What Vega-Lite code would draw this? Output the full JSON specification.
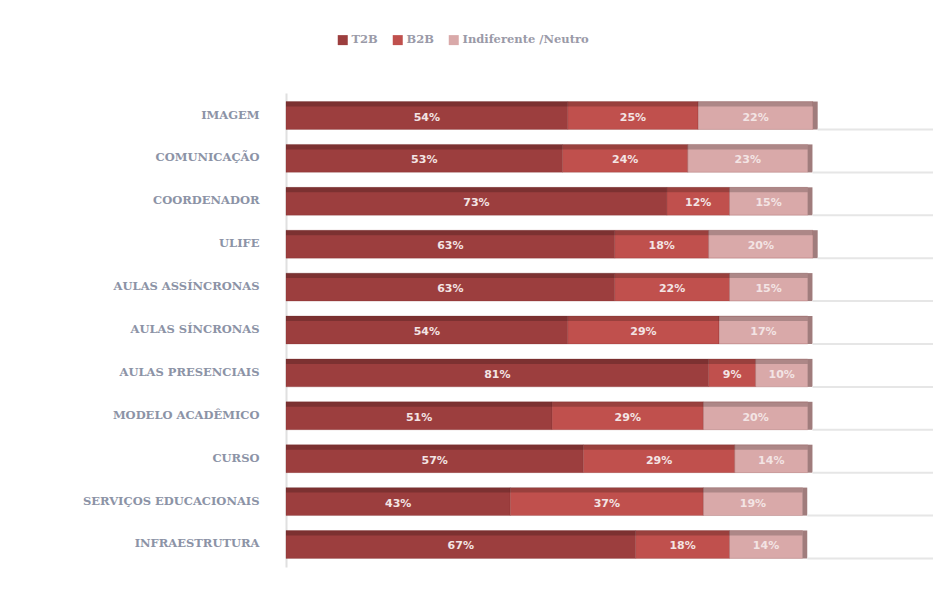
{
  "$schema": "https://vega.github.io/schema/vega-lite/v6.json",
  "autosize": "none",
  "width": 647,
  "height": 474,
  "padding": {"left": 286, "top": 93, "right": 6, "bottom": 25},
  "background": "white",
  "config": {"view": {"stroke": null}},
  "data": {"values": [
    {"item": "IMAGEM", "cat": "T2B", "pct": 54},
    {"item": "IMAGEM", "cat": "B2B", "pct": 25},
    {"item": "IMAGEM", "cat": "Indiferente /Neutro", "pct": 22},
    {"item": "COMUNICAÇÃO", "cat": "T2B", "pct": 53},
    {"item": "COMUNICAÇÃO", "cat": "B2B", "pct": 24},
    {"item": "COMUNICAÇÃO", "cat": "Indiferente /Neutro", "pct": 23},
    {"item": "COORDENADOR", "cat": "T2B", "pct": 73},
    {"item": "COORDENADOR", "cat": "B2B", "pct": 12},
    {"item": "COORDENADOR", "cat": "Indiferente /Neutro", "pct": 15},
    {"item": "ULIFE", "cat": "T2B", "pct": 63},
    {"item": "ULIFE", "cat": "B2B", "pct": 18},
    {"item": "ULIFE", "cat": "Indiferente /Neutro", "pct": 20},
    {"item": "AULAS ASSÍNCRONAS", "cat": "T2B", "pct": 63},
    {"item": "AULAS ASSÍNCRONAS", "cat": "B2B", "pct": 22},
    {"item": "AULAS ASSÍNCRONAS", "cat": "Indiferente /Neutro", "pct": 15},
    {"item": "AULAS SÍNCRONAS", "cat": "T2B", "pct": 54},
    {"item": "AULAS SÍNCRONAS", "cat": "B2B", "pct": 29},
    {"item": "AULAS SÍNCRONAS", "cat": "Indiferente /Neutro", "pct": 17},
    {"item": "AULAS PRESENCIAIS", "cat": "T2B", "pct": 81},
    {"item": "AULAS PRESENCIAIS", "cat": "B2B", "pct": 9},
    {"item": "AULAS PRESENCIAIS", "cat": "Indiferente /Neutro", "pct": 10},
    {"item": "MODELO ACADÊMICO", "cat": "T2B", "pct": 51},
    {"item": "MODELO ACADÊMICO", "cat": "B2B", "pct": 29},
    {"item": "MODELO ACADÊMICO", "cat": "Indiferente /Neutro", "pct": 20},
    {"item": "CURSO", "cat": "T2B", "pct": 57},
    {"item": "CURSO", "cat": "B2B", "pct": 29},
    {"item": "CURSO", "cat": "Indiferente /Neutro", "pct": 14},
    {"item": "SERVIÇOS EDUCACIONAIS", "cat": "T2B", "pct": 43},
    {"item": "SERVIÇOS EDUCACIONAIS", "cat": "B2B", "pct": 37},
    {"item": "SERVIÇOS EDUCACIONAIS", "cat": "Indiferente /Neutro", "pct": 19},
    {"item": "INFRAESTRUTURA", "cat": "T2B", "pct": 67},
    {"item": "INFRAESTRUTURA", "cat": "B2B", "pct": 18},
    {"item": "INFRAESTRUTURA", "cat": "Indiferente /Neutro", "pct": 14}
  ]},
  "transform": [
    {"calculate": "indexof(['T2B','B2B','Indiferente /Neutro'], datum.cat)", "as": "ord"},
    {"window": [{"op": "sum", "field": "pct", "as": "cum"}], "groupby": ["item"], "sort": [{"field": "ord"}], "frame": [null, 0]},
    {"calculate": "datum.cum - datum.pct", "as": "start"},
    {"calculate": "datum.cum - datum.pct / 2", "as": "mid"},
    {"calculate": "datum.pct + '%'", "as": "lbl"}
  ],
  "encoding": {
    "y": {
      "field": "item", "type": "nominal", "sort": null,
      "scale": {"paddingInner": 0.35, "paddingOuter": 0.2},
      "axis": {
        "title": null, "ticks": false, "domain": true, "domainColor": "#e0e0e0", "domainWidth": 2,
        "labelPadding": 27, "labelFont": "DejaVu Serif", "labelFontSize": 11.5, "labelFontWeight": "bold",
        "labelColor": "#8c93a6"
      }
    }
  },
  "layer": [
    {
      "mark": {"type": "bar", "stroke": "#7a2b2b", "strokeOpacity": 0.25, "strokeWidth": 1},
      "encoding": {
        "x": {"field": "start", "type": "quantitative", "scale": {"domain": [0, 124], "nice": false, "zero": true}, "axis": null},
        "x2": {"field": "cum"},
        "color": {
          "field": "cat", "type": "nominal",
          "scale": {"domain": ["T2B", "B2B", "Indiferente /Neutro"], "range": ["#9c3e3e", "#c0504d", "#d9a9a9"]},
          "legend": {
            "title": null, "orient": "none", "direction": "horizontal", "legendX": 51, "legendY": -59,
            "symbolType": "square", "symbolSize": 100, "symbolStrokeWidth": 0,
            "labelFont": "DejaVu Serif", "labelFontSize": 11.5, "labelFontWeight": "bold", "labelColor": "#9a9aa8",
            "columnPadding": 14, "labelOffset": 3
          }
        }
      }
    },
    {
      "mark": {"type": "bar", "color": "#000000", "opacity": 0.2, "height": 5, "yOffset": -11.5},
      "encoding": {
        "x": {"field": "start", "type": "quantitative"},
        "x2": {"field": "cum"}
      }
    },
    {
      "transform": [{"filter": "datum.ord == 2"}, {"calculate": "datum.cum + 0.9", "as": "sideEnd"}, {"calculate": "124", "as": "gEnd"}],
      "layer": [
        {
          "mark": {"type": "bar", "color": "#a07c7c", "height": 28},
          "encoding": {
            "x": {"field": "cum", "type": "quantitative"},
            "x2": {"field": "sideEnd"}
          }
        },
        {
          "mark": {"type": "rule", "color": "#e6e6e6", "strokeWidth": 2, "yOffset": 14},
          "encoding": {
            "x": {"field": "sideEnd", "type": "quantitative"},
            "x2": {"field": "gEnd"}
          }
        }
      ]
    },
    {
      "mark": {"type": "text", "font": "DejaVu Sans", "fontSize": 11, "fontWeight": "bold", "color": "#f3e4e4", "dy": 2},
      "encoding": {
        "x": {"field": "mid", "type": "quantitative"},
        "text": {"field": "lbl"}
      }
    }
  ]
}
